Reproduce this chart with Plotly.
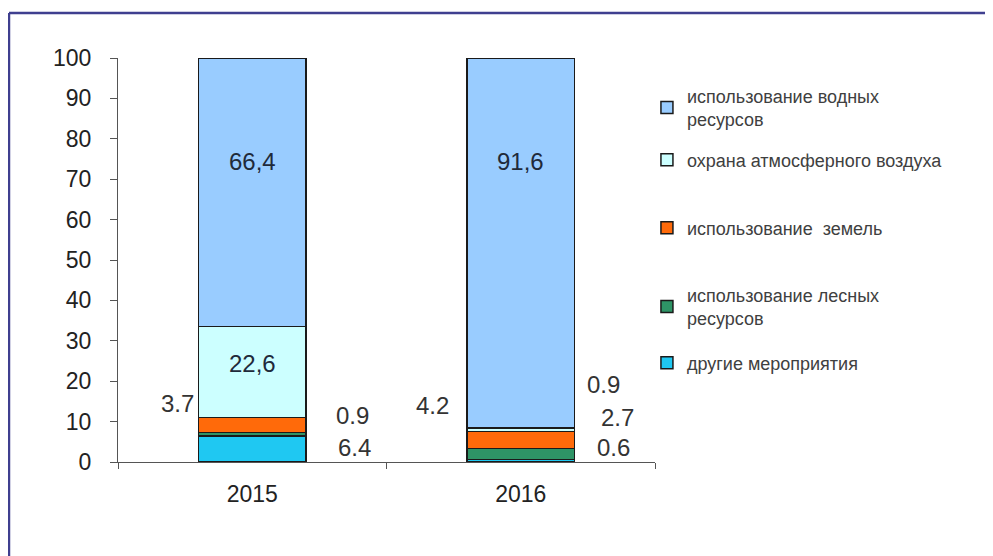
import plotly.graph_objects as go

years = ["2015", "2016"]
series_names = [
    "другие мероприятия",
    "использование лесных<br>ресурсов",
    "использование  земель",
    "охрана атмосферного воздуха",
    "использование водных<br>ресурсов",
]
other = [6.4, 0.6]
forest = [0.9, 2.7]
land = [3.7, 4.2]
air = [22.6, 0.9]
water = [66.4, 91.6]
series_values = [other, forest, land, air, water]
colors = ["#1FC8F2", "#2E9466", "#FF6A0A", "#CCFFFF", "#99CCFF"]

FAM = "Liberation Sans, Arial, sans-serif"

# each legend entry gets its own legend box so the entries can be spaced like the original
legend_ids = ["legend5", "legend4", "legend3", "legend2", "legend"]
legend_y = [0.245, 0.3849, 0.5792, 0.7475, 0.8775]

fig = go.Figure()
for name, vals, col, lid in zip(series_names, series_values, colors, legend_ids):
    fig.add_trace(go.Bar(
        x=years, y=vals, name=name, legend=lid,
        marker=dict(color=col, line=dict(color="#1a1a1a", width=1.5)),
        width=0.4, hoverinfo="skip",
    ))

lab_font_in = dict(family=FAM, size=24, color="#1F2A3A")
lab_font_out = dict(family=FAM, size=24, color="#333333")

def fmt_comma(v):
    return f"{v:.1f}".replace(".", ",")

i15, i16 = 0, 1  # category indices
annots = [
    # inside labels
    dict(x=i15, y=74.3, text=fmt_comma(water[0]), font=lab_font_in, xshift=0),
    dict(x=i16, y=74.3, text=fmt_comma(water[1]), font=lab_font_in, xshift=0),
    dict(x=i15, y=24.5, text=fmt_comma(air[0]), font=lab_font_in, xshift=0),
    # outside labels 2015
    dict(x=i15, y=14.6, text=f"{land[0]:.1f}", font=lab_font_out, xshift=-75),
    dict(x=i15, y=11.6, text=f"{forest[0]:.1f}", font=lab_font_out, xshift=100),
    dict(x=i15, y=3.5, text=f"{other[0]:.1f}", font=lab_font_out, xshift=102),
    # outside labels 2016
    dict(x=i16, y=13.9, text=f"{land[1]:.1f}", font=lab_font_out, xshift=-88),
    dict(x=i16, y=19.3, text=f"{air[1]:.1f}", font=lab_font_out, xshift=83),
    dict(x=i16, y=10.9, text=f"{forest[1]:.1f}", font=lab_font_out, xshift=97),
    dict(x=i16, y=3.5, text=f"{other[1]:.1f}", font=lab_font_out, xshift=93),
]
for a in annots:
    a.update(xref="x", yref="y", showarrow=False)

legend_style = dict(
    x=0.985, xanchor="left", yanchor="middle",
    font=dict(family=FAM, size=18, color="#404040"),
    itemwidth=30, bgcolor="rgba(0,0,0,0)",
)
legends = {lid: dict(legend_style, y=ly) for lid, ly in zip(legend_ids, legend_y)}

fig.update_layout(
    width=985, height=548,
    barmode="stack", bargap=0.6,
    paper_bgcolor="white", plot_bgcolor="white",
    margin=dict(l=110, r=338, t=50, b=94),
    font=dict(family=FAM, size=23, color="#222222"),
    annotations=annots,
    showlegend=True,
    xaxis=dict(
        type="category", range=[-0.5, 1.5], showline=True, linecolor="#555555", linewidth=1,
        ticks="outside", tickson="boundaries", ticklen=6, tickcolor="#555555",
        tickfont=dict(size=23, color="#222222"), showgrid=False, tickangle=0,
        ticklabelstandoff=11,
    ),
    yaxis=dict(
        range=[0, 100], dtick=10, showline=True, linecolor="#555555", linewidth=1,
        ticks="outside", ticklen=7, tickcolor="#555555", showgrid=False,
        zeroline=False, tickfont=dict(size=23, color="#222222"),
        ticklabelstandoff=14,
    ),
    shapes=[
        dict(type="line", xref="paper", yref="paper",
             x0=-0.203, x1=1.7, y0=1.1114, y1=1.1114,
             line=dict(color="#3F3F8F", width=2.5)),
        dict(type="line", xref="paper", yref="paper",
             x0=-0.203, x1=-0.203, y0=1.1114, y1=-0.3,
             line=dict(color="#3F3F8F", width=2.5)),
    ],
    **legends,
)

fig.write_html("out.html")
